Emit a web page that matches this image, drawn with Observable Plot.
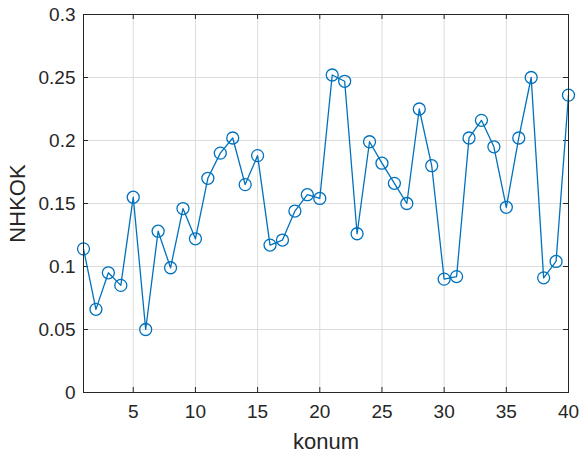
<!DOCTYPE html>
<html><head><meta charset="utf-8">
<script src="https://cdn.jsdelivr.net/npm/d3@7"></script>
<script src="https://cdn.jsdelivr.net/npm/@observablehq/plot@0.6"></script>
<style>body{margin:0;background:#fff}</style>
</head><body><div id="chart"></div>
<script>
const konum = d3.range(1, 41);
const nhkok = [0.114,0.066,0.095,0.085,0.155,0.050,0.128,0.099,0.146,0.122,
  0.170,0.190,0.202,0.165,0.188,0.117,0.121,0.144,0.157,0.154,
  0.252,0.247,0.126,0.199,0.182,0.166,0.150,0.225,0.180,0.090,
  0.092,0.202,0.216,0.195,0.147,0.202,0.250,0.091,0.104,0.236];
const xTicks = [5,10,15,20,25,30,35,40];
const yTicks = [0,0.05,0.1,0.15,0.2,0.25,0.3];
const yTickLabels = ["0","0.05","0.1","0.15","0.2","0.25","0.3"];
const data = konum.map((k,i)=>({konum:k, nhkok:nhkok[i]}));

const col = "#0072BD", axisCol = "#262626";
const tx = 5/12.44, ty = 0.3*5/378;
const chart = Plot.plot({
  width: 582, height: 457,
  marginLeft: 83, marginRight: 14, marginTop: 14, marginBottom: 65,
  style: {fontFamily: "'Liberation Sans', Arial, sans-serif", fontSize: "19px", color: axisCol, background: "#fff"},
  x: {domain: [1, 40]},
  y: {domain: [0, 0.3]},
  marks: [
    Plot.ruleX(xTicks, {stroke: "#dcdcdc", strokeWidth: 1}),
    Plot.ruleY(yTicks, {stroke: "#dcdcdc", strokeWidth: 1}),
    Plot.ruleX(xTicks, {x: d=>d, y1: 0, y2: ty, stroke: axisCol}),
    Plot.ruleX(xTicks, {x: d=>d, y1: 0.3, y2: 0.3-ty, stroke: axisCol}),
    Plot.ruleY(yTicks, {y: d=>d, x1: 1, x2: 1+tx, stroke: axisCol}),
    Plot.ruleY(yTicks, {y: d=>d, x1: 40, x2: 40-tx, stroke: axisCol}),
    Plot.axisX({ticks: xTicks, tickSize: 0, tickPadding: 12, label: null, fontSize: 19}),
    Plot.axisY({ticks: yTicks, tickSize: 0, tickPadding: 8, label: null, fontSize: 19,
      tickFormat: d => yTickLabels[yTicks.indexOf(d)]}),
    Plot.line(data, {x: "konum", y: "nhkok", stroke: col, strokeWidth: 1.3}),
    Plot.dot(data, {x: "konum", y: "nhkok", r: 6, stroke: col, strokeWidth: 1.3, fill: "none"}),
    Plot.frame({stroke: axisCol, strokeWidth: 1}),
    Plot.text(["konum"], {frameAnchor: "bottom", dy: 49, lineAnchor: "middle", textAnchor: "middle", fontSize: 22, fill: axisCol}),
    Plot.text(["NHKOK"], {frameAnchor: "left", dx: -66, rotate: -90, lineAnchor: "middle", textAnchor: "middle", fontSize: 22, fill: axisCol})
  ]
});
document.getElementById("chart").append(chart);
</script></body></html>
